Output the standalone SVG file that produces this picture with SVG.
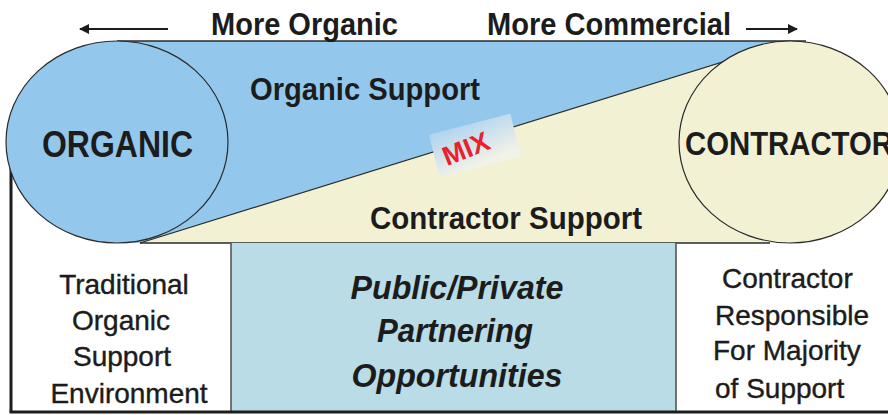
<svg xmlns="http://www.w3.org/2000/svg" width="888" height="415" viewBox="0 0 888 415">
<defs>
<style>
.h{font-family:"Liberation Sans",Arial,sans-serif;font-weight:bold;fill:#1c1c1c}
.r{font-family:"Liberation Sans",Arial,sans-serif;font-size:28px;fill:#1c1c1c;stroke:#1c1c1c;stroke-width:0.4}
.bi{font-family:"Liberation Sans",Arial,sans-serif;font-size:33px;font-weight:bold;font-style:italic;fill:#1c1c1c;text-anchor:middle}
.ol{stroke:#2a2a2a;stroke-width:1.2;}
</style>
<marker id="ah" viewBox="0 0 10 10" refX="9" refY="5" markerWidth="6" markerHeight="5" orient="auto-start-reverse" markerUnits="strokeWidth">
<path d="M0,0 L10,5 L0,10 Z" fill="#1c1c1c"/>
</marker>
<linearGradient id="mixg" x1="0" y1="0" x2="0.3" y2="1">
<stop offset="0" stop-color="#AED3F0"/>
<stop offset="1" stop-color="#F1F2E8"/>
</linearGradient>
</defs>
<rect width="888" height="415" fill="#ffffff"/>

<g id="bands">
<polygon points="117,41 790,41 140,243 117,243" fill="#93C8EC"/>
<polygon points="140,243 790,41 790,243" fill="#F3F1D4"/>
<line x1="140" y1="243" x2="790" y2="41" class="ol"/>
<line x1="117" y1="41" x2="806" y2="41" stroke="#2a2a2a" stroke-width="1.6"/>
<line x1="140" y1="243" x2="770" y2="243" stroke="#2a2a2a" stroke-width="1.6"/>
</g>

<g id="frame">
<rect x="231" y="243" width="445" height="169" fill="#B9DCE6"/>
<line x1="231" y1="243" x2="231" y2="412" stroke="#555" stroke-width="1.6"/>
<line x1="676" y1="243" x2="676" y2="412" stroke="#555" stroke-width="1.6"/>
<line x1="11" y1="160" x2="11" y2="412" stroke="#1c1c1c" stroke-width="3"/>
<line x1="9.5" y1="412" x2="888" y2="412" stroke="#1c1c1c" stroke-width="3"/>
</g>

<g id="organic">
<ellipse cx="117" cy="142" rx="111" ry="101" fill="#93C8EC" class="ol"/>
<text class="h" x="42" y="157" font-size="36" textLength="151" lengthAdjust="spacingAndGlyphs">ORGANIC</text>
</g>

<g id="contractor">
<ellipse cx="790" cy="142" rx="111" ry="101" fill="#F3F1D4" class="ol"/>
<text class="h" x="685" y="155" font-size="33" textLength="208" lengthAdjust="spacingAndGlyphs">CONTRACTOR</text>
</g>

<g id="organic-support">
<text class="h" x="250" y="100" font-size="31" textLength="230" lengthAdjust="spacingAndGlyphs">Organic Support</text>
</g>
<g id="contractor-support">
<text class="h" x="370" y="229" font-size="31" textLength="272" lengthAdjust="spacingAndGlyphs">Contractor Support</text>
</g>

<g id="mix">
<rect x="-42" y="-22" width="84" height="44" fill="url(#mixg)" transform="translate(475,145.5) rotate(-14.5)"/>
<text class="h" x="0" y="9" font-size="27" style="fill:#E8222B" text-anchor="middle" textLength="48" lengthAdjust="spacingAndGlyphs" transform="translate(466,149) rotate(-22)">MIX</text>
</g>

<g id="labels-top">
<text class="h" x="211" y="35" font-size="32" textLength="187" lengthAdjust="spacingAndGlyphs">More Organic</text>
<text class="h" x="487" y="35" font-size="32" textLength="244" lengthAdjust="spacingAndGlyphs">More Commercial</text>
</g>

<g id="connectors">
<line x1="168" y1="29" x2="80" y2="29" stroke="#1c1c1c" stroke-width="2" marker-end="url(#ah)"/>
<line x1="746" y1="29" x2="797" y2="29" stroke="#1c1c1c" stroke-width="2" marker-end="url(#ah)"/>
</g>

<g id="traditional">
<text class="r" text-anchor="middle" x="124" y="294">Traditional</text>
<text class="r" text-anchor="middle" x="121" y="330">Organic</text>
<text class="r" text-anchor="middle" x="122" y="366">Support</text>
<text class="r" text-anchor="middle" x="129" y="403">Environment</text>
</g>

<g id="partnering">
<text class="bi" x="457" y="299" textLength="213" lengthAdjust="spacingAndGlyphs">Public/Private</text>
<text class="bi" x="455" y="342" textLength="156" lengthAdjust="spacingAndGlyphs">Partnering</text>
<text class="bi" x="457" y="387" textLength="211" lengthAdjust="spacingAndGlyphs">Opportunities</text>
</g>

<g id="contractor-resp">
<text class="r" x="722" y="288">Contractor</text>
<text class="r" x="715" y="325">Responsible</text>
<text class="r" x="713" y="360">For Majority</text>
<text class="r" x="715" y="398">of Support</text>
</g>
</svg>
